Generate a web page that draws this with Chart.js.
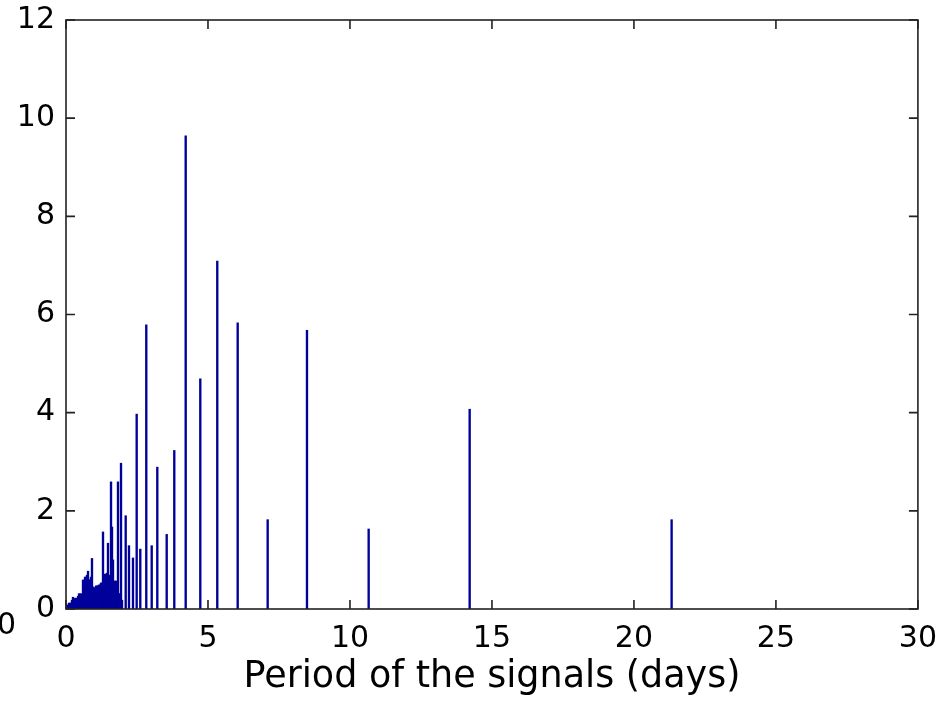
<!DOCTYPE html>
<html>
<head>
<meta charset="utf-8">
<script src="https://cdn.jsdelivr.net/npm/chart.js@4/dist/chart.umd.min.js"></script>
<style>
  body { margin: 0; background: #fff; }
  #wrap { position: relative; width: 949px; height: 701px; overflow: hidden; }
  #chart1 { position: absolute; left: 0; top: -9px; }
  #stray { position: absolute; left: -3px; top: 606px; font: 30px "DejaVu Sans", sans-serif; color: #000; }
</style>
</head>
<body>
<div id="wrap">
  <canvas id="chart1" width="949" height="710"></canvas>
  <div id="stray">0</div>
</div>
<script>
// period of each signal (days)
var periods = [
  0.035, 0.070, 0.106, 0.141, 0.176, 0.211, 0.246, 0.282, 0.317, 0.352,
  0.387, 0.423, 0.458, 0.493, 0.528, 0.563, 0.599, 0.634, 0.669, 0.704,
  0.739, 0.775, 0.810, 0.845, 0.880, 0.915, 0.951, 0.986, 1.021, 1.056,
  1.092, 1.127, 1.162, 1.197, 1.232, 1.268, 1.303, 1.338, 1.373, 1.408,
  1.444, 1.479, 1.514, 1.549, 1.585, 1.620, 1.655, 1.690, 1.725, 1.761,
  1.796, 1.831, 1.866, 1.901, 1.937, 1.972,
  2.102, 2.218, 2.359, 2.489, 2.616, 2.827, 3.018, 3.215, 3.546, 3.813,
  4.215, 4.729, 5.327, 6.046, 7.102, 8.486, 10.658, 14.215, 21.327
];
// amplitude of each signal
var amplitudes = [
  0.08, 0.08, 0.12, 0.12, 0.12, 0.18, 0.24, 0.20, 0.22, 0.22,
  0.22, 0.26, 0.31, 0.31, 0.31, 0.26, 0.59, 0.59, 0.65, 0.65,
  0.69, 0.77, 0.60, 0.10, 0.65, 1.03, 0.45, 0.43, 0.43, 0.47,
  0.47, 0.47, 0.49, 0.49, 0.53, 0.53, 1.57, 0.30, 0.71, 0.71,
  0.73, 1.34, 0.69, 0.39, 2.59, 1.67, 1.00, 0.39, 0.57, 0.57,
  0.39, 2.59, 0.31, 0.31, 2.97, 0.18,
  1.90, 1.29, 1.04, 3.97, 1.22, 5.79, 1.29, 2.89, 1.52, 3.23,
  9.64, 4.69, 7.09, 5.83, 1.82, 5.68, 1.63, 4.07, 1.82
];
var xTicks = [0, 5, 10, 15, 20, 25, 30];
var yTicks = [0, 2, 4, 6, 8, 10, 12];
var xTitle = 'Period of the signals (days)';

var points = periods.map(function (p, i) { return { x: p, y: amplitudes[i] }; });

// box round the plot with inward ticks on all four sides
var frame = {
  id: 'frame',
  afterDatasetsDraw: function (chart) {
    var ctx = chart.ctx, a = chart.chartArea;
    var x = chart.scales.x, y = chart.scales.y;
    var tl = 9;
    ctx.save();
    ctx.strokeStyle = '#222';
    ctx.lineWidth = 1.6;
    ctx.strokeRect(a.left, a.top, a.right - a.left, a.bottom - a.top);
    ctx.beginPath();
    xTicks.forEach(function (v) {
      var px = x.getPixelForValue(v);
      ctx.moveTo(px, a.bottom); ctx.lineTo(px, a.bottom - tl);
      ctx.moveTo(px, a.top); ctx.lineTo(px, a.top + tl);
    });
    yTicks.forEach(function (v) {
      var py = y.getPixelForValue(v);
      ctx.moveTo(a.left, py); ctx.lineTo(a.left + tl, py);
      ctx.moveTo(a.right, py); ctx.lineTo(a.right - tl, py);
    });
    ctx.stroke();
    ctx.restore();
  }
};

var font = { family: '"DejaVu Sans", sans-serif', size: 30 };

new Chart(document.getElementById('chart1').getContext('2d'), {
  type: 'bar',
  data: {
    datasets: [{
      data: points,
      backgroundColor: '#00009a',
      borderWidth: 0,
      barThickness: 1.7,
      grouped: false
    }]
  },
  options: {
    responsive: false,
    animation: false,
    devicePixelRatio: 1,
    layout: { padding: { top: 11, right: 31, left: 0, bottom: 0 } },
    plugins: { legend: { display: false }, tooltip: { enabled: false } },
    scales: {
      x: {
        type: 'linear',
        offset: false,
        min: 0,
        max: 30,
        afterFit: function (s) { s.height = 92; },
        afterBuildTicks: function (s) { s.ticks = xTicks.map(function (v) { return { value: v }; }); },
        grid: { display: false, drawTicks: false },
        border: { display: false },
        ticks: { color: '#000', font: font, padding: 12, maxRotation: 0 },
        title: { display: true, text: xTitle, color: '#000', font: { family: '"DejaVu Sans", sans-serif', size: 36.5 }, padding: { top: 0, bottom: 2 } }
      },
      y: {
        min: 0,
        max: 12,
        afterFit: function (s) { s.width = 66; },
        afterBuildTicks: function (s) { s.ticks = yTicks.map(function (v) { return { value: v }; }); },
        grid: { display: false, drawTicks: false },
        border: { display: false },
        ticks: { color: '#000', font: font, padding: 11 }
      }
    }
  },
  plugins: [frame]
});
</script>
</body>
</html>
